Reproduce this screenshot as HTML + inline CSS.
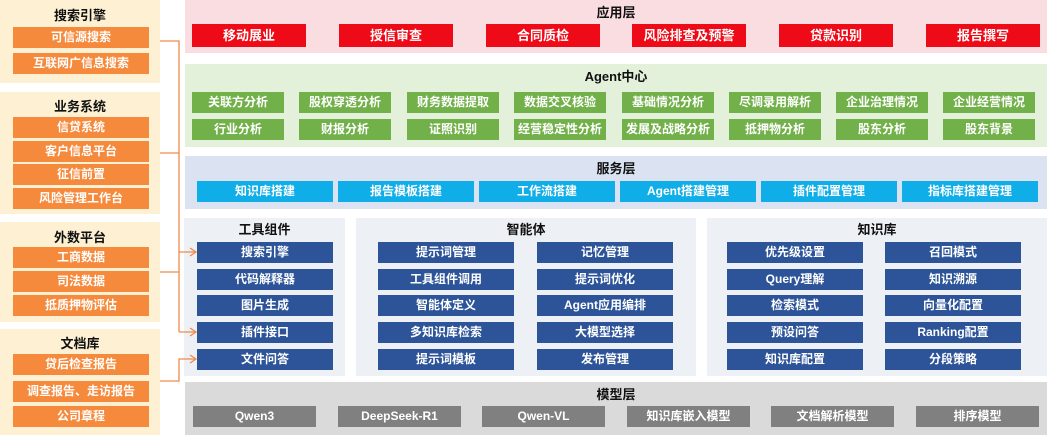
<!DOCTYPE html>
<html><head><meta charset="utf-8"><style>
*{margin:0;padding:0;box-sizing:border-box}
body{width:1047px;height:435px;background:#fff;position:relative;overflow:hidden;font-family:"Liberation Sans","Noto Sans CJK SC",sans-serif;font-weight:bold}
div{position:absolute}
.b{color:#fff;font-size:12px;text-align:center;line-height:21px;height:21px}
.t{font-size:13px;color:#111;text-align:center}
.lp{background:#fdf0d3;left:0;width:160px}
.o{background:#f58a3c;left:13px;width:136px}
.r{background:#ee0a16;top:24px;width:114px;height:23px;line-height:23px;font-size:13px}
.g{background:#72b04a;width:92px}
.s{background:#10aee8;top:181px;width:136px}
.u{background:#2d5499;width:136px}
.m{background:#808080;top:406px;width:123px}
.p{background:#edf0f5}
</style></head><body>
<div class="lp" style="top:0;height:83px"></div>
<div class="t" style="left:0;width:160px;top:5px">搜索引擎</div>
<div class="b o" style="top:27px">可信源搜索</div>
<div class="b o" style="top:53px">互联网广信息搜索</div>
<div class="lp" style="top:92px;height:122px"></div>
<div class="t" style="left:0;width:160px;top:96px">业务系统</div>
<div class="b o" style="top:117px">信贷系统</div>
<div class="b o" style="top:141px">客户信息平台</div>
<div class="b o" style="top:164px">征信前置</div>
<div class="b o" style="top:188px">风险管理工作台</div>
<div class="lp" style="top:222px;height:100px"></div>
<div class="t" style="left:0;width:160px;top:227px">外数平台</div>
<div class="b o" style="top:247px">工商数据</div>
<div class="b o" style="top:271px">司法数据</div>
<div class="b o" style="top:295px">抵质押物评估</div>
<div class="lp" style="top:329px;height:106px"></div>
<div class="t" style="left:0;width:160px;top:333px">文档库</div>
<div class="b o" style="top:354px">贷后检查报告</div>
<div class="b o" style="top:381px">调查报告、走访报告</div>
<div class="b o" style="top:406px">公司章程</div>
<div style="left:185px;top:0;width:862px;height:53px;background:#fadde1"></div>
<div class="t" style="left:185px;width:862px;top:2px">应用层</div>
<div class="b r" style="left:192px">移动展业</div>
<div class="b r" style="left:339px">授信审查</div>
<div class="b r" style="left:486px">合同质检</div>
<div class="b r" style="left:632px">风险排查及预警</div>
<div class="b r" style="left:779px">贷款识别</div>
<div class="b r" style="left:926px">报告撰写</div>
<div style="left:185px;top:64px;width:862px;height:83px;background:#e3f1da"></div>
<div class="t" style="left:185px;width:862px;top:66px">Agent中心</div>
<div class="b g" style="left:192px;top:92px">关联方分析</div>
<div class="b g" style="left:299px;top:92px">股权穿透分析</div>
<div class="b g" style="left:407px;top:92px">财务数据提取</div>
<div class="b g" style="left:514px;top:92px">数据交叉核验</div>
<div class="b g" style="left:622px;top:92px">基础情况分析</div>
<div class="b g" style="left:729px;top:92px">尽调录用解析</div>
<div class="b g" style="left:836px;top:92px">企业治理情况</div>
<div class="b g" style="left:943px;top:92px">企业经营情况</div>
<div class="b g" style="left:192px;top:119px">行业分析</div>
<div class="b g" style="left:299px;top:119px">财报分析</div>
<div class="b g" style="left:407px;top:119px">证照识别</div>
<div class="b g" style="left:514px;top:119px">经营稳定性分析</div>
<div class="b g" style="left:622px;top:119px">发展及战略分析</div>
<div class="b g" style="left:729px;top:119px">抵押物分析</div>
<div class="b g" style="left:836px;top:119px">股东分析</div>
<div class="b g" style="left:943px;top:119px">股东背景</div>
<div style="left:185px;top:156px;width:862px;height:53px;background:#dbe3f2"></div>
<div class="t" style="left:185px;width:862px;top:158px">服务层</div>
<div class="b s" style="left:197px">知识库搭建</div>
<div class="b s" style="left:338px">报告模板搭建</div>
<div class="b s" style="left:479px">工作流搭建</div>
<div class="b s" style="left:620px">Agent搭建管理</div>
<div class="b s" style="left:761px">插件配置管理</div>
<div class="b s" style="left:902px">指标库搭建管理</div>
<div class="p" style="left:184px;top:218px;width:161px;height:158px"></div>
<div class="t" style="left:184px;width:161px;top:219px">工具组件</div>
<div class="b u" style="left:197px;top:242px">搜索引擎</div>
<div class="b u" style="left:197px;top:269px">代码解释器</div>
<div class="b u" style="left:197px;top:295px">图片生成</div>
<div class="b u" style="left:197px;top:322px">插件接口</div>
<div class="b u" style="left:197px;top:349px">文件问答</div>
<div class="p" style="left:356px;top:218px;width:340px;height:158px"></div>
<div class="t" style="left:356px;width:340px;top:219px">智能体</div>
<div class="b u" style="left:378px;top:242px">提示词管理</div>
<div class="b u" style="left:378px;top:269px">工具组件调用</div>
<div class="b u" style="left:378px;top:295px">智能体定义</div>
<div class="b u" style="left:378px;top:322px">多知识库检索</div>
<div class="b u" style="left:378px;top:349px">提示词模板</div>
<div class="b u" style="left:537px;top:242px">记忆管理</div>
<div class="b u" style="left:537px;top:269px">提示词优化</div>
<div class="b u" style="left:537px;top:295px">Agent应用编排</div>
<div class="b u" style="left:537px;top:322px">大模型选择</div>
<div class="b u" style="left:537px;top:349px">发布管理</div>
<div class="p" style="left:707px;top:218px;width:340px;height:158px"></div>
<div class="t" style="left:707px;width:340px;top:219px">知识库</div>
<div class="b u" style="left:727px;top:242px">优先级设置</div>
<div class="b u" style="left:727px;top:269px">Query理解</div>
<div class="b u" style="left:727px;top:295px">检索模式</div>
<div class="b u" style="left:727px;top:322px">预设问答</div>
<div class="b u" style="left:727px;top:349px">知识库配置</div>
<div class="b u" style="left:885px;top:242px">召回模式</div>
<div class="b u" style="left:885px;top:269px">知识溯源</div>
<div class="b u" style="left:885px;top:295px">向量化配置</div>
<div class="b u" style="left:885px;top:322px">Ranking配置</div>
<div class="b u" style="left:885px;top:349px">分段策略</div>
<div style="left:185px;top:382px;width:862px;height:53px;background:#dadada"></div>
<div class="t" style="left:185px;width:862px;top:384px">模型层</div>
<div class="b m" style="left:193px">Qwen3</div>
<div class="b m" style="left:338px">DeepSeek-R1</div>
<div class="b m" style="left:482px">Qwen-VL</div>
<div class="b m" style="left:627px">知识库嵌入模型</div>
<div class="b m" style="left:771px">文档解析模型</div>
<div class="b m" style="left:916px">排序模型</div>
<svg style="position:absolute;left:0;top:0" width="1047" height="435">
<g stroke="#f08a4b" stroke-width="1.3" fill="none">
<path d="M160 41H179V332M160 153H179M160 272H179M179 252H196M179 332H196M160 381H179V359H196"/>
<path d="M190 248L196 252L190 256M190 328L196 332L190 336M190 355L196 359L190 363"/>
</g></svg>
</body></html>
